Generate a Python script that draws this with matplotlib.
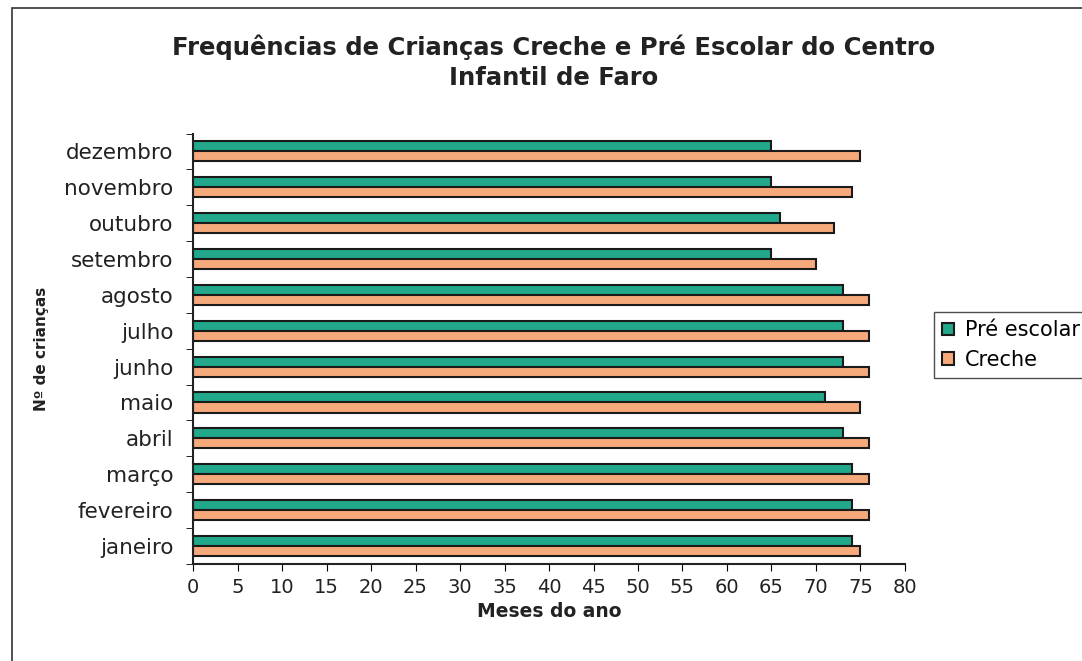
import numpy as np
import matplotlib.pyplot as plt
from matplotlib.patches import Rectangle

meses = ["janeiro", "fevereiro", "março", "abril", "maio", "junho",
         "julho", "agosto", "setembro", "outubro", "novembro", "dezembro"]
pre_escolar = [74, 74, 74, 73, 71, 73, 73, 73, 65, 66, 65, 65]
creche = [75, 76, 76, 76, 75, 76, 76, 76, 70, 72, 74, 75]

verde = "#22A98B"
laranja = "#F6AA7C"

plt.rcParams["font.family"] = ["DejaVu Sans"]

fig = plt.figure(figsize=(10.82, 6.61), dpi=100)
ax = fig.add_axes([0.1784, 0.147, 0.658, 0.651])

y = np.arange(len(meses))
h = 0.28
ax.barh(y + h / 2, pre_escolar, height=h, color=verde, edgecolor="#1a1a1a",
        linewidth=1.5, label="Pré escolar")
ax.barh(y - h / 2, creche, height=h, color=laranja, edgecolor="#1a1a1a",
        linewidth=1.5, label="Creche")

ax.set_xlim(0, 80)
ax.set_ylim(-0.5, len(meses) - 0.5)
ax.set_xticks(np.arange(0, 81, 5))
ax.set_yticks(y)
ax.set_yticklabels(meses, color="#222222")
ax.set_yticks(np.arange(-0.5, len(meses), 1), minor=True)
ax.tick_params(axis="y", which="major", length=0, labelsize=15.5, pad=14)
ax.tick_params(axis="y", which="minor", length=5, direction="out")
ax.tick_params(axis="x", length=5, direction="out", labelsize=14,
               labelcolor="#222222", pad=5)

for s in ["top", "right"]:
    ax.spines[s].set_visible(False)
ax.spines["left"].set_color("#222222")
ax.spines["bottom"].set_color("#222222")
ax.spines["left"].set_linewidth(1.5)
ax.spines["bottom"].set_linewidth(1.5)

ax.set_xlabel("Meses do ano", fontsize=13.5, fontweight="bold", labelpad=4,
              color="#222222")
ax.set_ylabel("Nº de crianças", fontsize=11, fontweight="bold", labelpad=11,
              color="#222222")

fig.text(0.512, 0.906, "Frequências de Crianças Creche e Pré Escolar do Centro\nInfantil de Faro",
         ha="center", va="center", fontsize=17.5, fontweight="bold", linespacing=1.35,
         color="#222222")

leg = fig.legend(loc="upper left", bbox_to_anchor=(0.863, 0.528), fontsize=15,
                 frameon=True, fancybox=False, edgecolor="#222222",
                 handlelength=0.55, handleheight=0.55, handletextpad=0.55,
                 borderpad=0.4, labelspacing=0.45, borderaxespad=0)
leg.get_frame().set_linewidth(1.0)

fig.patches.append(Rectangle((0.011, -0.01), 1.0, 0.998, transform=fig.transFigure,
                             fill=False, edgecolor="#333333", linewidth=1.2))

plt.savefig("out.png", dpi=100)
